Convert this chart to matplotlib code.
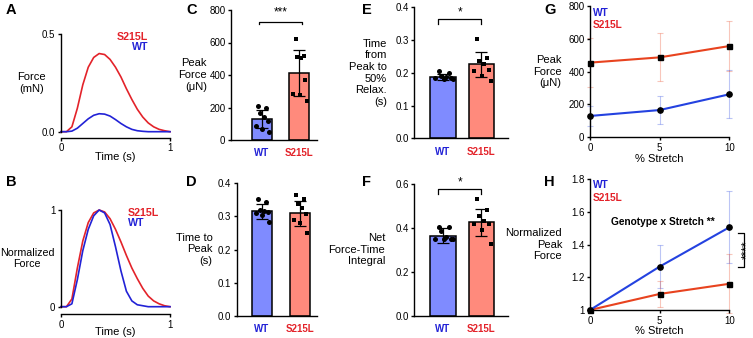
import matplotlib.pyplot as plt
import numpy as np

plt.rcParams['font.family'] = ['Liberation Sans', 'DejaVu Sans']
plt.rcParams['axes.linewidth'] = 1.0
plt.rcParams['xtick.major.width'] = 1.0
plt.rcParams['ytick.major.width'] = 1.0
plt.rcParams['xtick.major.size'] = 2.5
plt.rcParams['ytick.major.size'] = 2.5
plt.rcParams['xtick.labelsize'] = 7
plt.rcParams['ytick.labelsize'] = 7
plt.rcParams['xtick.major.pad'] = 1.5
plt.rcParams['ytick.major.pad'] = 1.5

# ---- data ----
genotypes = ['WT', 'S215L']

# force traces (A: mN, B: normalized)
time_s = [0, 0.05, 0.10, 0.15, 0.20, 0.25, 0.30, 0.35, 0.40, 0.45, 0.50,
          0.55, 0.60, 0.65, 0.70, 0.75, 0.80, 0.85, 0.90, 0.95, 1.0]
force_wt = [0, 0, 0.003, 0.018, 0.042, 0.066, 0.084, 0.092, 0.09, 0.08, 0.062,
            0.042, 0.025, 0.012, 0.005, 0.002, 0, 0, 0, 0, 0]
force_mut = [0, 0, 0.025, 0.12, 0.24, 0.33, 0.38, 0.40, 0.395, 0.37, 0.33,
             0.28, 0.22, 0.165, 0.115, 0.075, 0.045, 0.025, 0.012, 0.005, 0]
norm_wt = [0, 0, 0.03, 0.28, 0.58, 0.80, 0.94, 1.0, 0.97, 0.85, 0.62,
           0.37, 0.16, 0.06, 0.02, 0.01, 0, 0, 0, 0, 0]
norm_mut = [0, 0, 0.08, 0.40, 0.68, 0.87, 0.97, 1.0, 0.98, 0.91, 0.80,
            0.67, 0.53, 0.40, 0.29, 0.19, 0.11, 0.06, 0.03, 0.01, 0]

# bar panels: mean, SD, individual points
peak_mean = [129, 414]
peak_sd = [58, 142]
peak_wt = [210, 200, 165, 140, 120, 85, 65, 50]
peak_mut = [620, 518, 513, 507, 370, 282, 277, 242]

ttp_mean = [0.315, 0.309]
ttp_sd = [0.022, 0.038]
ttp_wt = [0.353, 0.342, 0.318, 0.315, 0.312, 0.31, 0.305, 0.284]
ttp_mut = [0.365, 0.353, 0.337, 0.324, 0.306, 0.289, 0.279, 0.251]

relax_mean = [0.186, 0.226]
relax_sd = [0.009, 0.039]
relax_wt = [0.204, 0.2, 0.19, 0.188, 0.185, 0.183, 0.182, 0.18]
relax_mut = [0.303, 0.245, 0.235, 0.226, 0.21, 0.205, 0.19, 0.175]

integ_mean = [0.365, 0.425]
integ_sd = [0.033, 0.063]
integ_wt = [0.405, 0.402, 0.385, 0.36, 0.35, 0.35, 0.348, 0.348]
integ_mut = [0.53, 0.482, 0.456, 0.433, 0.42, 0.418, 0.39, 0.327]

# stretch panels
stretch = [0, 5, 10]
g_wt = [130, 166, 262]
g_wt_sd = [62, 87, 147]
g_mut = [455, 487, 556]
g_mut_sd = [150, 146, 155]
h_wt = [1.0, 1.265, 1.505]
h_wt_sd = [0, 0.13, 0.22]
h_mut = [1.0, 1.098, 1.16]
h_mut_sd = [0, 0.08, 0.18]

# ---- colours ----
c_red = '#e3232a'
c_blue = '#2222d6'
c_wtbar = '#7f8bff'
c_mutbar = '#ff8a7c'
c_line_wt = '#2442e0'
c_line_mut = '#e8431f'

W, H = 753, 338
fig = plt.figure(figsize=(W / 100, H / 100), dpi=100)


def box(l, r, t, b):
    return fig.add_axes([l / W, 1 - b / H, (r - l) / W, (b - t) / H])


def clean(ax):
    ax.spines['top'].set_visible(False)
    ax.spines['right'].set_visible(False)


def ylab(ax, text, xpos, align='right', size=8):
    ax.set_ylabel(text, rotation=0, fontsize=size, ha='right', va='center',
                  multialignment=align, linespacing=1.2)
    ax.yaxis.set_label_coords(xpos, 0.5)


def xlab(ax, text, ypos):
    ax.set_xlabel(text, fontsize=8, va='top')
    ax.xaxis.set_label_coords(0.5, ypos)


def letter(x, y, s):
    fig.text(x / W, 1 - y / H, s, fontsize=10.5, fontweight='bold', ha='left', va='top')


# ---- A ----
axA = box(61, 170, 34, 131.7)
axA.plot(time_s, force_mut, color=c_red, lw=1.2, clip_on=False)
axA.plot(time_s, force_wt, color=c_blue, lw=1.2, clip_on=False)
axA.set_xlim(0, 1)
axA.set_ylim(0, 0.5)
axA.set_xticks([0, 1])
axA.set_xticklabels(['0', '1'])
axA.set_yticks([0, 0.5])
axA.set_yticklabels(['0.0', '0.5'])
clean(axA)
axA.spines['bottom'].set_position(('outward', 4.3))
xlab(axA, 'Time (s)', -0.205)
ylab(axA, 'Force\n(mN)', -0.14, 'center')
axA.text(0.8, 0.483, 'S215L', color=c_red, fontsize=7.7, fontweight='bold', ha='right', va='center')
axA.text(0.8, 0.432, 'WT', color=c_blue, fontsize=7.7, fontweight='bold', ha='right', va='center')

# ---- B ----
axB = box(61, 170, 210, 306.7)
axB.plot(time_s, norm_mut, color=c_red, lw=1.2, clip_on=False)
axB.plot(time_s, norm_wt, color=c_blue, lw=1.2, clip_on=False)
axB.set_xlim(0, 1)
axB.set_ylim(0, 1)
axB.set_xticks([0, 1])
axB.set_xticklabels(['0', '1'])
axB.set_yticks([0, 1])
axB.set_yticklabels(['0', '1'])
clean(axB)
axB.spines['bottom'].set_position(('outward', 5.5))
xlab(axB, 'Time (s)', -0.215)
ylab(axB, 'Normalized\nForce', -0.06, 'center', 7.7)
axB.text(0.615, 0.972, 'S215L', color=c_red, fontsize=7.7, fontweight='bold', ha='left', va='center')
axB.text(0.615, 0.869, 'WT', color=c_blue, fontsize=7.7, fontweight='bold', ha='left', va='center')

# ---- bar panels ----
jit = np.array([-0.35, 0.45, -0.2, 0.2, 0.6, -0.6, 0.05, 0.75])


def bar_panel(ax, means, sds, pts_wt, pts_mut, width, ylim, yticks, ylabels):
    ax.bar([0, 1], means, width=width, color=[c_wtbar, c_mutbar],
           edgecolor='black', linewidth=1.1, zorder=1)
    ax.scatter(0 + jit * width / 2, pts_wt, marker='o', s=13, color='black',
               zorder=3, clip_on=False, linewidths=0)
    ax.scatter(1 + jit * width / 2, pts_mut, marker='s', s=12, color='black',
               zorder=3, clip_on=False, linewidths=0)
    ax.errorbar([0, 1], means, yerr=sds, fmt='none', ecolor='black',
                elinewidth=0.9, capsize=4.5, capthick=0.9, zorder=4)
    ax.set_ylim(*ylim)
    ax.set_yticks(yticks)
    ax.set_yticklabels(ylabels)
    ax.set_xticks([0, 1])
    ax.set_xticklabels(genotypes, fontsize=7, fontweight='bold')
    ax.get_xticklabels()[0].set_color(c_blue)
    ax.get_xticklabels()[1].set_color(c_red)
    ax.tick_params(axis='x', length=0, pad=6)
    clean(ax)


def bracket(ax, x0, x1, y, drop, label, ytext):
    ax.plot([x0, x0, x1, x1], [y - drop, y, y, y - drop],
            color='black', lw=0.9, clip_on=False)
    ax.text((x0 + x1) / 2, ytext, label, ha='center', va='center', fontsize=8.5, clip_on=False)


# C
axC = box(231, 316.7, 10, 140)
bar_panel(axC, peak_mean, peak_sd, peak_wt, peak_mut, 0.53, (0, 800),
          [0, 200, 400, 600, 800], ['0', '200', '400', '600', '800'])
axC.set_xlim(-0.82, 1.46)
ylab(axC, 'Peak\nForce\n(\u03bcN)', -0.28)
bracket(axC, -0.07, 1.06, 728, 16, '***', 782)

# D
axD = box(236.7, 316.7, 183.3, 315.7)
bar_panel(axD, ttp_mean, ttp_sd, ttp_wt, ttp_mut, 0.53, (0, 0.4),
          [0, 0.1, 0.2, 0.3, 0.4], ['0.0', '0.1', '0.2', '0.3', '0.4'])
axD.set_xlim(-0.66, 1.447)
ylab(axD, 'Time to\nPeak\n(s)', -0.3)

# E
axE = box(414.3, 508.3, 7.3, 138.3)
bar_panel(axE, relax_mean, relax_sd, relax_wt, relax_mut, 0.66, (0, 0.4),
          [0, 0.1, 0.2, 0.3, 0.4], ['0.0', '0.1', '0.2', '0.3', '0.4'])
axE.set_xlim(-0.75, 1.70)
ylab(axE, 'Time\nfrom\nPeak to\n50%\nRelax.\n(s)', -0.29)
bracket(axE, -0.12, 0.98, 0.363, 0.014, '*', 0.384)

# F
axF = box(414.3, 508.3, 184, 315.7)
bar_panel(axF, integ_mean, integ_sd, integ_wt, integ_mut, 0.66, (0, 0.6),
          [0, 0.2, 0.4, 0.6], ['0.0', '0.2', '0.4', '0.6'])
axF.set_xlim(-0.75, 1.70)
ylab(axF, 'Net\nForce-Time\nIntegral', -0.31)
bracket(axF, -0.12, 0.98, 0.576, 0.022, '*', 0.607)


# ---- stretch panels ----
def stretch_panel(ax, wt, wt_sd, mut, mut_sd):
    ax.errorbar(stretch, wt, yerr=wt_sd, fmt='none', ecolor=c_line_wt, alpha=0.3,
                elinewidth=0.8, capsize=2.5, capthick=0.8, clip_on=False, zorder=1)
    ax.errorbar(stretch, mut, yerr=mut_sd, fmt='none', ecolor=c_line_mut, alpha=0.3,
                elinewidth=0.8, capsize=2.5, capthick=0.8, clip_on=False, zorder=1)
    ax.plot(stretch, mut, color=c_line_mut, lw=1.5, marker='s', ms=3.6,
            mfc='black', mec='black', clip_on=False, zorder=3)
    ax.plot(stretch, wt, color=c_line_wt, lw=1.5, marker='o', ms=3.8,
            mfc='black', mec='black', clip_on=False, zorder=3)
    ax.set_xlim(0, 10)
    ax.set_xticks(stretch)
    ax.set_xticklabels(['0', '5', '10'])
    xlab(ax, '% Stretch', -0.125)
    clean(ax)


axG = box(590, 729.3, 6, 137.3)
stretch_panel(axG, g_wt, g_wt_sd, g_mut, g_mut_sd)
axG.set_ylim(0, 800)
axG.set_yticks([0, 200, 400, 600, 800])
axG.set_yticklabels(['0', '200', '400', '600', '800'])
ylab(axG, 'Peak\nForce\n(\u03bcN)', -0.205)
axG.text(0.2, 759, 'WT', color=c_blue, fontsize=7.3, fontweight='bold', va='center')
axG.text(0.2, 684, 'S215L', color=c_red, fontsize=7.3, fontweight='bold', va='center')

axH = box(590, 729.3, 179, 310)
stretch_panel(axH, h_wt, h_wt_sd, h_mut, h_mut_sd)
axH.set_ylim(1, 1.8)
axH.set_yticks([1, 1.2, 1.4, 1.6, 1.8])
axH.set_yticklabels(['1', '1.2', '1.4', '1.6', '1.8'])
ylab(axH, 'Normalized\nPeak\nForce', -0.2)
axH.text(0.2, 1.763, 'WT', color=c_blue, fontsize=7.3, fontweight='bold', va='center')
axH.text(0.2, 1.682, 'S215L', color=c_red, fontsize=7.3, fontweight='bold', va='center')
axH.text(5.22, 1.539, 'Genotype x Stretch **', fontsize=7.3, fontweight='bold', ha='center', va='center')
axH.plot([10.65, 11.05, 11.05, 10.65], [1.468, 1.468, 1.26, 1.26], color='black', lw=0.9, clip_on=False)
axH.text(11.3, 1.366, '****', rotation=90, fontsize=8.5, ha='center', va='center', clip_on=False)

# ---- panel letters ----
letter(6, 3, 'A')
letter(6, 175, 'B')
letter(186, 3, 'C')
letter(186, 175, 'D')
letter(362, 3, 'E')
letter(362, 175, 'F')
letter(544, 3, 'G')
letter(544, 175, 'H')

fig.savefig('out.png', dpi=100)
